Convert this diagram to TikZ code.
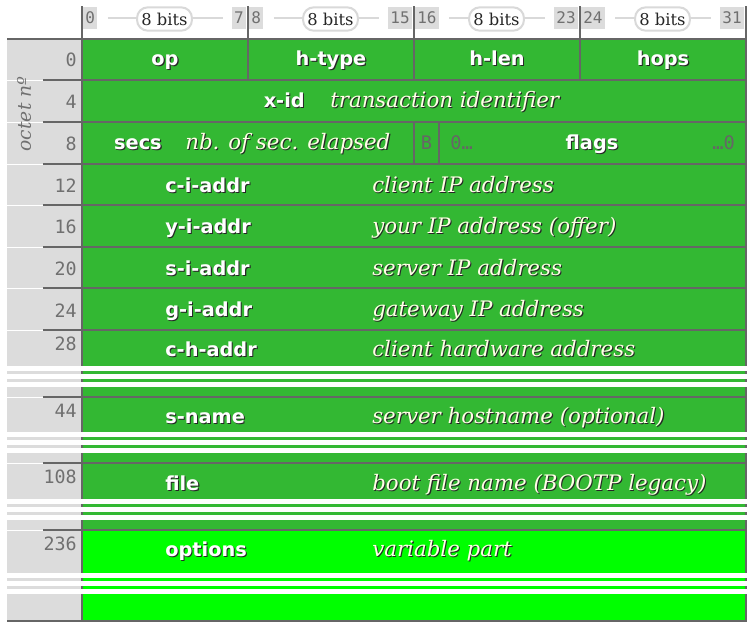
\documentclass[tikz,border=0pt]{standalone}
\usepackage{fontspec}
\setmainfont{DejaVu Serif}
\setsansfont{DejaVu Sans}
\setmonofont{DejaVu Sans Mono}
\usepackage{tikz}
\usetikzlibrary{positioning}

\definecolor{fieldgreen}{HTML}{33B833}
\definecolor{optgreen}{HTML}{00FF00}
\definecolor{rulegray}{HTML}{666666}
\definecolor{colgray}{HTML}{DCDCDC}
\definecolor{numgray}{HTML}{707070}
\definecolor{pillgray}{HTML}{D9D9D9}
\definecolor{desccolor}{HTML}{FFFFE6}

% white text with a dark drop shadow
\newcommand\shtext[1]{\rlap{\kern0.8pt\raisebox{-0.8pt}{\color{black!85}#1}}#1}

\begin{document}
\begin{tikzpicture}[x=0.75pt,y=-0.75pt,
    fname/.style={font=\sffamily\bfseries\fontsize{14.5}{16}\selectfont,text=white,inner sep=0pt},
    fdesc/.style={font=\rmfamily\itshape\fontsize{16}{18}\selectfont,text=desccolor,inner sep=0pt},
    octnum/.style={font=\ttfamily\fontsize{13.75}{15}\selectfont,text=numgray,inner sep=0pt,anchor=base east},
    flagtxt/.style={font=\ttfamily\fontsize{14}{16}\selectfont,text=rulegray,inner sep=0pt},
    bitnum/.style={font=\ttfamily\fontsize{12}{14}\selectfont,text=numgray,fill=colgray,inner xsep=1.5pt,inner ysep=0pt,minimum height=17pt},
    pill/.style={draw=pillgray,line width=1.5pt,fill=white,rounded corners=8pt,font=\rmfamily\fontsize{12.25}{14}\selectfont,text=black!85,inner xsep=3.25pt,inner ysep=0pt,minimum height=17.5pt},
    bitline/.style={draw=pillgray,line width=1.5pt},
    darkrule/.style={draw=rulegray,line width=1.5pt}]
  \useasboundingbox[fill=white] (0,0) rectangle (753,629);

  \fill[colgray] (7,38) rectangle (81,621);
  \fill[fieldgreen] (82,38) rectangle (746,531);
  \fill[optgreen] (82,531) rectangle (746,621);

  \draw[darkrule] (81.5,38) -- (81.5,621);
  \draw[darkrule] (746,38) -- (746,621);
  \draw[darkrule] (7,38.5) -- (747,38.5);
  \draw[darkrule] (7,621) -- (747,621);
  \foreach \y in {80,122,164,205,247,288,330,397,463,530} {
    \draw[white,line width=0.75pt] (7,\y) -- (43,\y);
    \draw[darkrule] (43,\y) -- (746,\y);
  }
  \draw[darkrule] (248,38) -- (248,80) (414,38) -- (414,80) (580,38) -- (580,80);
  \draw[darkrule] (414,122) -- (414,164) (439,122) -- (439,164);

  % elided octets
  \foreach \y in {366,432,499,573} {
    \fill[white] (7,\y) rectangle (747,\y+4.5);
    \fill[white] (7,\y+7.5) rectangle (747,\y+12.5);
    \fill[white] (7,\y+16) rectangle (747,\y+21);
  }

  % bit ruler
  \foreach \x in {82,248,414,580,746}
    \draw[rulegray,line width=1.1pt] (\x,6) -- (\x,38);
  \foreach \c in {0,...,3} {
    \pgfmathtruncatemacro\lo{8*\c}
    \pgfmathtruncatemacro\hi{8*\c+7}
    \node[bitnum,anchor=west] (lo\c) at (83+166*\c,18) {\lo};
    \node[bitnum,anchor=east] (hi\c) at (246+166*\c,18) {\hi};
    \draw[bitline,shorten <=8pt,shorten >=7pt] (lo\c) -- (hi\c);
    \node[pill] (pill\c) at (164.5+166*\c,19) {8 bits};
  }

  \node[rotate=90,font=\rmfamily\itshape\fontsize{14}{16}\selectfont,text=numgray] (octet) at (24,114) {octet nº};
  \node[octnum] (n0) at (77,66) {0};
  \node[octnum] (n4) at (77,108) {4};
  \node[octnum] (n8) at (77,150) {8};
  \node[octnum] (n12) at (77,192) {12};
  \node[octnum] (n16) at (77,233) {16};
  \node[octnum] (n20) at (77,275) {20};
  \node[octnum] (n24) at (77,317) {24};
  \node[octnum] (n28) at (77,350) {28};
  \node[octnum] (n44) at (77,417) {44};
  \node[octnum] (n108) at (77,483) {108};
  \node[octnum] (n236) at (77,550) {236};

  \node[fname,anchor=base] (op) at (165,65) {\shtext{op}};
  \node[fname,anchor=base] (htype) at (331,65) {\shtext{h-type}};
  \node[fname,anchor=base] (hlen) at (497,65) {\shtext{h-len}};
  \node[fname,anchor=base] (hops) at (663,65) {\shtext{hops}};

  \node[fname,anchor=base east] (xid) at (305,107) {\shtext{x-id}};
  \node[fdesc,base right=18.75pt of xid] (xiddesc) {\shtext{transaction identifier}};

  \node[fname,anchor=base east] (secs) at (162,149) {\shtext{secs}};
  \node[fdesc,base right=17.25pt of secs] (secsdesc) {\shtext{nb. of sec. elapsed}};
  \node[flagtxt,anchor=base] (bflag) at (426.5,149) {B};
  \node[flagtxt,anchor=base west] (flaglo) at (450,149) {0…};
  \node[fname,anchor=base] (flags) at (592,149) {\shtext{flags}};
  \node[flagtxt,anchor=base east] (flaghi) at (735,149) {…0};

  \node[fname,anchor=base west] (ciaddr) at (165,192) {\shtext{c-i-addr}};
  \node[fdesc,anchor=base west] (ciaddrdesc) at (372,192) {\shtext{client IP address}};
  \node[fname,anchor=base west] (yiaddr) at (165,233) {\shtext{y-i-addr}};
  \node[fdesc,anchor=base west] (yiaddrdesc) at (372,233) {\shtext{your IP address (offer)}};
  \node[fname,anchor=base west] (siaddr) at (165,275) {\shtext{s-i-addr}};
  \node[fdesc,anchor=base west] (siaddrdesc) at (372,275) {\shtext{server IP address}};
  \node[fname,anchor=base west] (giaddr) at (165,316) {\shtext{g-i-addr}};
  \node[fdesc,anchor=base west] (giaddrdesc) at (372,316) {\shtext{gateway IP address}};
  \node[fname,anchor=base west] (chaddr) at (165,356) {\shtext{c-h-addr}};
  \node[fdesc,anchor=base west] (chaddrdesc) at (372,356) {\shtext{client hardware address}};
  \node[fname,anchor=base west] (sname) at (165,423) {\shtext{s-name}};
  \node[fdesc,anchor=base west] (snamedesc) at (372,423) {\shtext{server hostname (optional)}};
  \node[fname,anchor=base west] (file) at (165,490) {\shtext{file}};
  \node[fdesc,anchor=base west] (filedesc) at (372,490) {\shtext{boot file name (BOOTP legacy)}};
  \node[fname,anchor=base west] (options) at (165,556) {\shtext{options}};
  \node[fdesc,anchor=base west] (optionsdesc) at (372,556) {\shtext{variable part}};
\end{tikzpicture}
\end{document}
